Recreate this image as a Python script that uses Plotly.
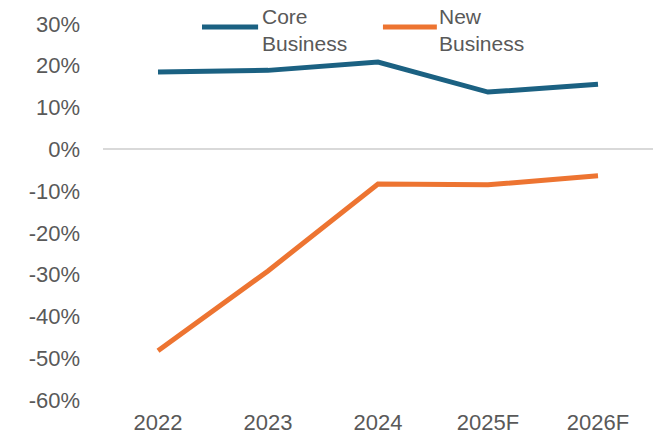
import plotly.graph_objects as go

# Growth rates by year (fractions)
years = ["2022", "2023", "2024", "2025F", "2026F"]
core_business = [0.185, 0.189, 0.209, 0.137, 0.156]
new_business = [-0.482, -0.291, -0.083, -0.085, -0.063]

y_tick_values = [0.3, 0.2, 0.1, 0.0, -0.1, -0.2, -0.3, -0.4, -0.5, -0.6]
y_tick_labels = ["30%", "20%", "10%", "0%", "-10%", "-20%", "-30%", "-40%", "-50%", "-60%"]

series_names = ["Core<br>Business", "New<br>Business"]
series_colors = ["#1B6182", "#ED7431"]

text_color = "#595959"
font_family = "Liberation Sans, Arial, sans-serif"

fig = go.Figure()
for name, values, color in zip(series_names, [core_business, new_business], series_colors):
    fig.add_trace(go.Scatter(
        x=years, y=values, mode="lines", name=name,
        line=dict(color=color, width=5),
        showlegend=False,
    ))

# Legend drawn as line swatches with two-line labels at the top of the plot
legend_x = [(0.18, 0.282, 0.285), (0.509, 0.607, 0.608)]
for (x0, x1, xt), name, color in zip(legend_x, series_names, series_colors):
    fig.add_shape(type="line", xref="paper", yref="paper",
                  x0=x0, x1=x1, y0=0.992, y1=0.992,
                  line=dict(color=color, width=5))
    fig.add_annotation(xref="paper", yref="paper", x=xt, y=0.983,
                       text=name, showarrow=False, xanchor="left", yanchor="middle",
                       align="left", font=dict(size=21, color=text_color, family=font_family))

fig.update_layout(
    width=666, height=438,
    margin=dict(l=103, r=13, t=24, b=38),
    paper_bgcolor="white", plot_bgcolor="white",
    font=dict(family=font_family, size=22, color=text_color),
    xaxis=dict(range=[-0.5, 4.5], showgrid=False, showline=False, ticks="",
               ticklabelstandoff=7, zeroline=False, automargin=False),
    yaxis=dict(range=[-0.6, 0.3], tickvals=y_tick_values, ticktext=y_tick_labels,
               showgrid=False, zeroline=True, zerolinecolor="#D9D9D9",
               zerolinewidth=1.5, showline=False, ticks="", ticklabelstandoff=22,
               automargin=False),
)

fig.write_html("out.html")
